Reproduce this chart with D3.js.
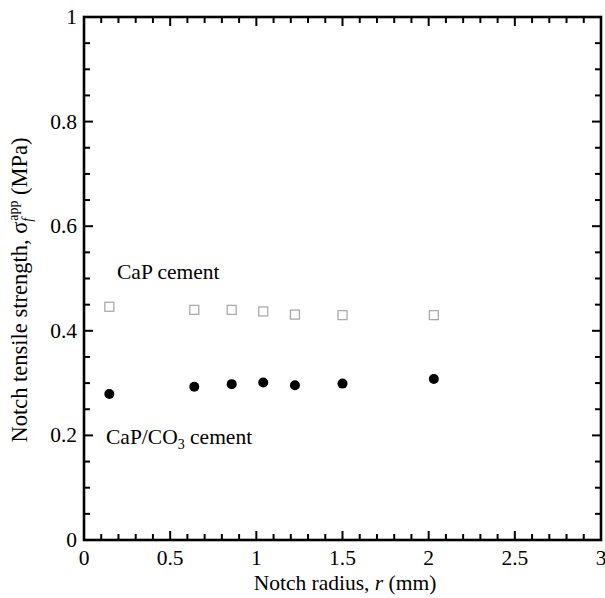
<!DOCTYPE html>
<html><head><meta charset="utf-8">
<script src="https://cdn.jsdelivr.net/npm/d3@7"></script>
<style>body{margin:0;background:#fff}svg{display:block}</style>
</head><body>
<svg id="c" width="605" height="598" font-family="'Liberation Serif', 'DejaVu Serif', 'Times New Roman', serif"></svg>
<script>
const xTicks = [0, 0.5, 1, 1.5, 2, 2.5, 3];
const yTicks = [0, 0.2, 0.4, 0.6, 0.8, 1];
const capX = [0.147, 0.64, 0.857, 1.04, 1.224, 1.5, 2.03];
const capY = [0.446, 0.440, 0.440, 0.437, 0.431, 0.430, 0.430];
const co3X = [0.147, 0.64, 0.857, 1.04, 1.224, 1.5, 2.03];
const co3Y = [0.279, 0.293, 0.298, 0.301, 0.296, 0.299, 0.308];

const svg = d3.select("#c");
const L = 84, R = 601, T = 17, B = 540;
const x = d3.scaleLinear().domain([0, 3]).range([L, R]);
const y = d3.scaleLinear().domain([0, 1]).range([B, T]);
const fs = 21.5;

const xMinor = d3.range(0, 3.0001, 0.1);
const yMinor = d3.range(0, 1.0001, 0.05);
function isMajor(v, step) { return Math.abs(v / step - Math.round(v / step)) < 1e-6; }

const g = svg.append("g").attr("stroke", "#000").attr("stroke-width", 2);
xMinor.forEach(v => {
  const l = isMajor(v, 0.5) ? 9 : 6;
  g.append("line").attr("x1", x(v)).attr("x2", x(v)).attr("y1", B).attr("y2", B - l);
  g.append("line").attr("x1", x(v)).attr("x2", x(v)).attr("y1", T).attr("y2", T + l);
});
yMinor.forEach(v => {
  const l = isMajor(v, 0.2) ? 9 : 6;
  g.append("line").attr("y1", y(v)).attr("y2", y(v)).attr("x1", L).attr("x2", L + l);
  g.append("line").attr("y1", y(v)).attr("y2", y(v)).attr("x1", R).attr("x2", R - l);
});
svg.append("rect").attr("x", L).attr("y", T).attr("width", R - L).attr("height", B - T)
  .attr("fill", "none").attr("stroke", "#000").attr("stroke-width", 2.6);

svg.append("g").selectAll("text").data(xTicks).join("text")
  .attr("x", d => x(d)).attr("y", 565).attr("text-anchor", "middle")
  .attr("font-size", fs).text(d => d);
svg.append("g").selectAll("text").data(yTicks).join("text")
  .attr("x", 77).attr("y", d => y(d) + 7).attr("text-anchor", "end")
  .attr("font-size", fs).text(d => d);

const xt = svg.append("text").attr("x", 345).attr("y", 590).attr("text-anchor", "middle").attr("font-size", fs);
xt.append("tspan").text("Notch radius, ");
xt.append("tspan").attr("font-style", "italic").text("r");
xt.append("tspan").text(" (mm)");

const yt = svg.append("text").attr("transform", "translate(27,290) rotate(-90)")
  .attr("text-anchor", "middle").attr("font-size", 22.5);
yt.append("tspan").text("Notch tensile strength, σ");
yt.append("tspan").attr("font-style", "italic").attr("font-size", 14).attr("dy", 5).text("f");
yt.append("tspan").attr("font-size", 14).attr("dy", -14).attr("dx", -3).text("app");
yt.append("tspan").attr("dy", 9).text(" (MPa)");

svg.append("g").selectAll("rect").data(capX).join("rect")
  .attr("x", d => x(d) - 4.5).attr("y", (d, i) => y(capY[i]) - 4.5)
  .attr("width", 9).attr("height", 9)
  .attr("fill", "none").attr("stroke", "#aaa").attr("stroke-width", 1.3);
svg.append("g").selectAll("circle").data(co3X).join("circle")
  .attr("cx", d => x(d)).attr("cy", (d, i) => y(co3Y[i])).attr("r", 5).attr("fill", "#000");

svg.append("text").attr("x", 117).attr("y", 279).attr("font-size", fs).text("CaP cement");
const l2 = svg.append("text").attr("x", 106).attr("y", 444).attr("font-size", fs);
l2.append("tspan").text("CaP/CO");
l2.append("tspan").attr("font-size", 14).attr("dy", 5).text("3");
l2.append("tspan").attr("dy", -5).text(" cement");
</script>
</body></html>
